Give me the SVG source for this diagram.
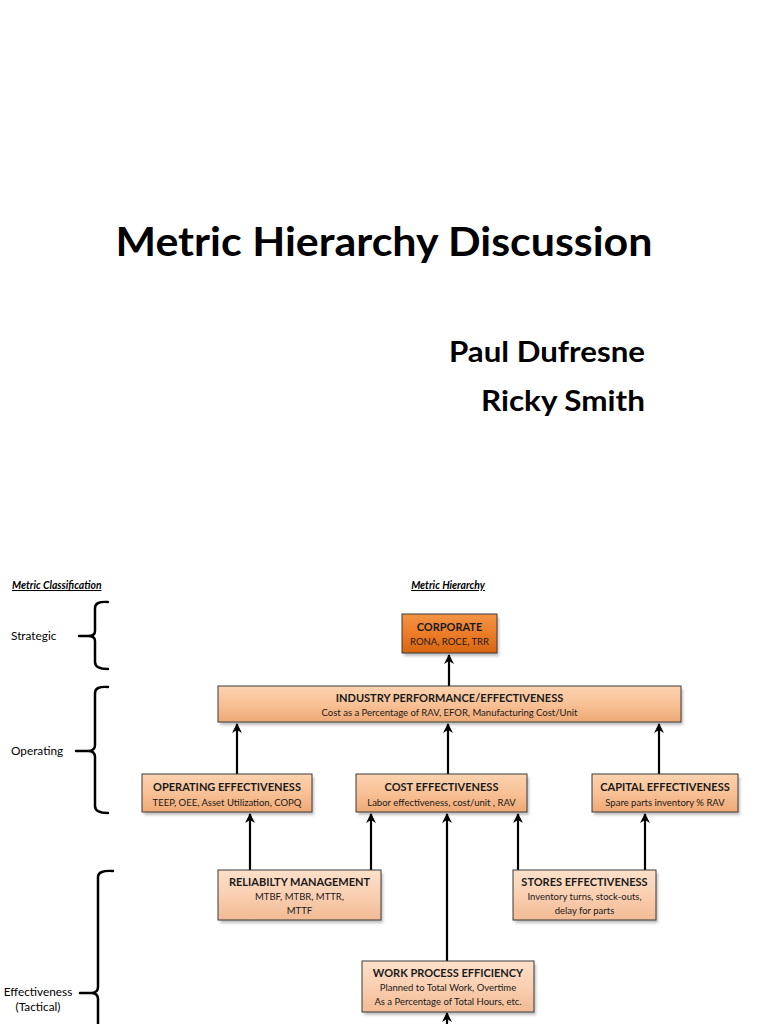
<svg xmlns="http://www.w3.org/2000/svg" width="768" height="1024" viewBox="0 0 768 1024">
<style>
.title{font-family:Lato,"Liberation Sans",sans-serif;font-weight:bold;fill:#000}
.hdr{font-family:Lato,"Liberation Sans",sans-serif;font-weight:bold;font-style:italic;font-size:10.4px;text-decoration:underline;fill:#000}
.cls{font-family:Lato,"Liberation Sans",sans-serif;font-size:11.8px;fill:#000}
.bt{font-family:Lato,"Liberation Sans",sans-serif;font-weight:bold;font-size:11px;fill:#1a1a1a;text-anchor:middle}
.bs{font-family:Lato,"Liberation Sans",sans-serif;font-size:9.5px;fill:#1a1a1a;text-anchor:middle}
.box{stroke:#3a3a3a;stroke-width:1}
.shadow{fill:#000;opacity:0.25}
.brace{fill:none;stroke:#000;stroke-width:2.5;stroke-linejoin:round;stroke-linecap:round}
.conn{fill:none;stroke:#000;stroke-width:2.2}
</style>
<defs>
<linearGradient id="gMid" x1="0" y1="0" x2="0" y2="1">
<stop offset="0" stop-color="#FBD2B0"/><stop offset="0.5" stop-color="#F8C196"/><stop offset="1" stop-color="#EFA975"/>
</linearGradient>
<linearGradient id="gLight" x1="0" y1="0" x2="0" y2="1">
<stop offset="0" stop-color="#FDE0CA"/><stop offset="0.5" stop-color="#FACFB1"/><stop offset="1" stop-color="#F1BB95"/>
</linearGradient>
<linearGradient id="gCorp" x1="0" y1="0" x2="0" y2="1">
<stop offset="0" stop-color="#F39447"/><stop offset="0.5" stop-color="#EC7C28"/><stop offset="1" stop-color="#D86410"/>
</linearGradient>
<filter id="blur" x="-10%" y="-10%" width="130%" height="140%"><feGaussianBlur stdDeviation="1.5"/></filter>
<marker id="ah" viewBox="0 0 10 10" refX="9" refY="5" markerWidth="4.5" markerHeight="4.5" orient="auto" markerUnits="strokeWidth">
<path d="M0,0 L10,5 L0,10 L3,5 Z" fill="#000"/>
</marker>
</defs>
<rect width="768" height="1024" fill="#fff"/>

<g id="header">
<text class="title" x="384" y="256" font-size="40" text-anchor="middle" textLength="537" lengthAdjust="spacingAndGlyphs">Metric Hierarchy Discussion</text>
<text class="title" x="645" y="362" font-size="29" text-anchor="end" textLength="196" lengthAdjust="spacingAndGlyphs">Paul Dufresne</text>
<text class="title" x="645" y="411" font-size="29" text-anchor="end" textLength="164" lengthAdjust="spacingAndGlyphs">Ricky Smith</text>
</g>

<g id="column-headers">
<text class="hdr" x="12" y="589">Metric Classification</text>
<text class="hdr" x="448" y="589" text-anchor="middle">Metric Hierarchy</text>
</g>

<g id="classification">
<text class="cls" x="11" y="640">Strategic</text>
<path class="brace" d="M108,602 Q95,601 95,608 L95,631 Q95,636 88,636 L79,636 M88,636 Q95,636 95,641 L95,662 Q95,669 108,669"/>
<text class="cls" x="11" y="755">Operating</text>
<path class="brace" d="M108,687 Q95,686 95,693 L95,745 Q95,751 88,751 L76,751 M88,751 Q95,751 95,757 L95,806 Q95,813 108,813"/>
<text class="cls" x="38" y="996" text-anchor="middle">Effectiveness</text>
<text class="cls" x="38" y="1011" text-anchor="middle">(Tactical)</text>
<path class="brace" d="M113,871 Q98,870 98,877 L98,987 Q98,993 91,993 L80,993 M91,993 Q98,993 98,999 L98,1030"/>
</g>

<g id="connectors">
<line class="conn" x1="449" y1="686" x2="449" y2="655" marker-end="url(#ah)"/>
<line class="conn" x1="237" y1="774" x2="237" y2="724" marker-end="url(#ah)"/>
<line class="conn" x1="448" y1="774" x2="448" y2="724" marker-end="url(#ah)"/>
<line class="conn" x1="659" y1="774" x2="659" y2="724" marker-end="url(#ah)"/>
<line class="conn" x1="250" y1="870" x2="250" y2="814" marker-end="url(#ah)"/>
<line class="conn" x1="371" y1="870" x2="371" y2="814" marker-end="url(#ah)"/>
<line class="conn" x1="447" y1="961" x2="447" y2="814" marker-end="url(#ah)"/>
<line class="conn" x1="518" y1="870" x2="518" y2="814" marker-end="url(#ah)"/>
<line class="conn" x1="645" y1="870" x2="645" y2="814" marker-end="url(#ah)"/>
<line class="conn" x1="447" y1="1030" x2="447" y2="1013" marker-end="url(#ah)"/>
</g>

<g id="corporate">
<rect class="shadow" x="404" y="617" width="95" height="39" filter="url(#blur)"/>
<rect class="box" x="402" y="614" width="95" height="39" fill="url(#gCorp)"/>
<text class="bt" x="449.5" y="631">CORPORATE</text>
<text class="bs" x="449.5" y="645">RONA, ROCE, TRR</text>
</g>

<g id="industry">
<rect class="shadow" x="220" y="689" width="463" height="36" filter="url(#blur)"/>
<rect class="box" x="218" y="686" width="463" height="36" fill="url(#gMid)"/>
<text class="bt" x="449.5" y="702">INDUSTRY PERFORMANCE/EFFECTIVENESS</text>
<text class="bs" x="449.5" y="716">Cost as a Percentage of RAV, EFOR, Manufacturing Cost/Unit</text>
</g>

<g id="operating">
<rect class="shadow" x="144" y="777" width="170" height="38" filter="url(#blur)"/>
<rect class="box" x="142" y="774" width="170" height="38" fill="url(#gMid)"/>
<text class="bt" x="227" y="791">OPERATING EFFECTIVENESS</text>
<text class="bs" x="227" y="806">TEEP, OEE, Asset Utilization, COPQ</text>
</g>

<g id="cost">
<rect class="shadow" x="358" y="777" width="171" height="38" filter="url(#blur)"/>
<rect class="box" x="356" y="774" width="171" height="38" fill="url(#gMid)"/>
<text class="bt" x="441.5" y="791">COST EFFECTIVENESS</text>
<text class="bs" x="441.5" y="806">Labor effectiveness, cost/unit , RAV</text>
</g>

<g id="capital">
<rect class="shadow" x="594" y="777" width="146" height="38" filter="url(#blur)"/>
<rect class="box" x="592" y="774" width="146" height="38" fill="url(#gMid)"/>
<text class="bt" x="665" y="791">CAPITAL EFFECTIVENESS</text>
<text class="bs" x="665" y="806">Spare parts inventory % RAV</text>
</g>

<g id="reliability">
<rect class="shadow" x="220" y="873" width="163" height="50" filter="url(#blur)"/>
<rect class="box" x="218" y="870" width="163" height="50" fill="url(#gLight)"/>
<text class="bt" x="299.5" y="886">RELIABILTY MANAGEMENT</text>
<text class="bs" x="299.5" y="900">MTBF, MTBR, MTTR,</text>
<text class="bs" x="299.5" y="914">MTTF</text>
</g>

<g id="stores">
<rect class="shadow" x="515" y="873" width="143" height="50" filter="url(#blur)"/>
<rect class="box" x="513" y="870" width="143" height="50" fill="url(#gLight)"/>
<text class="bt" x="584.5" y="886">STORES EFFECTIVENESS</text>
<text class="bs" x="584.5" y="900">Inventory turns, stock-outs,</text>
<text class="bs" x="584.5" y="914">delay for parts</text>
</g>

<g id="work-process">
<rect class="shadow" x="364" y="964" width="172" height="51" filter="url(#blur)"/>
<rect class="box" x="362" y="961" width="172" height="51" fill="url(#gLight)"/>
<text class="bt" x="448" y="977">WORK PROCESS EFFICIENCY</text>
<text class="bs" x="448" y="991">Planned to Total Work, Overtime</text>
<text class="bs" x="448" y="1005">As a Percentage of Total Hours, etc.</text>
</g>
</svg>
